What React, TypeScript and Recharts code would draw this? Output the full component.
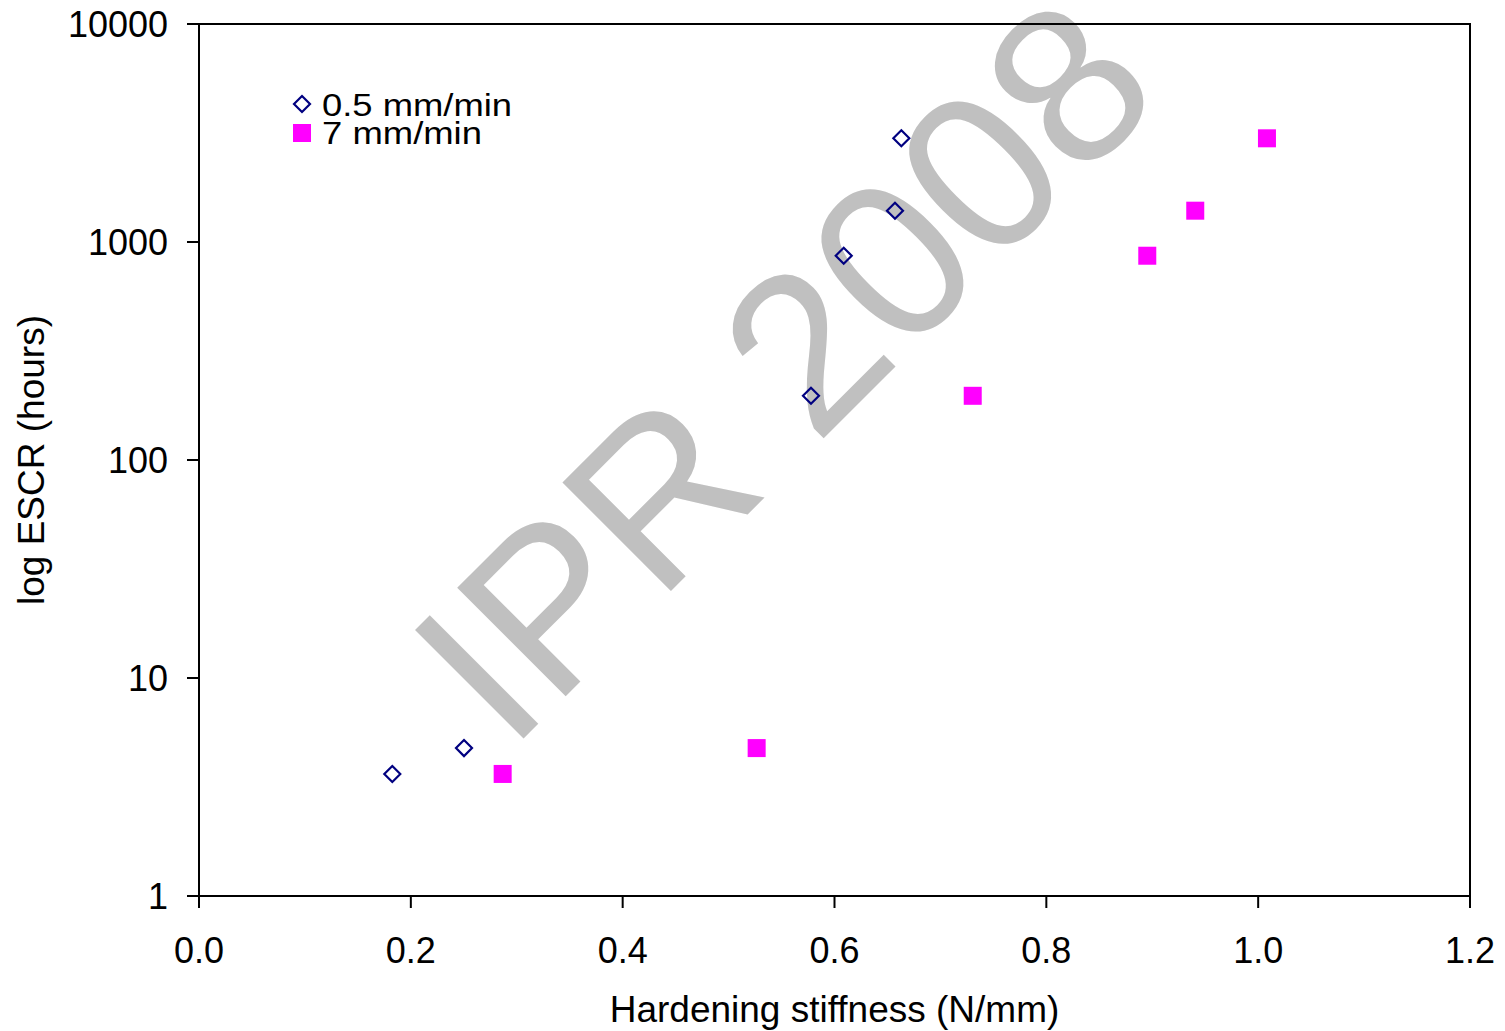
import React from 'react';
import { ScatterChart, Scatter, XAxis, YAxis, ReferenceArea, Legend } from 'recharts';

const slowX = [0.1825, 0.2502, 0.5778, 0.6087, 0.6571, 0.6631];
const slowY = [3.63, 4.77, 197, 865, 1392, 2990];
const fastX = [0.2867, 0.5265, 0.7305, 0.8953, 0.9406, 1.0083];
const fastY = [3.63, 4.77, 197, 865, 1392, 2990];
const xTicks = [0, 0.2, 0.4, 0.6, 0.8, 1.0, 1.2];
const yTicks = [1, 10, 100, 1000, 10000];
const seriesNames = ['0.5 mm/min', '7 mm/min'];
const xTitle = 'Hardening stiffness (N/mm)';
const yTitle = 'log ESCR (hours)';
const watermark = 'IPR 2008';

const slowData = slowX.map((x, i) => ({ x, y: slowY[i] }));
const fastData = fastX.map((x, i) => ({ x, y: fastY[i] }));

const FONT = '"Liberation Sans", Arial, sans-serif';
const NAVY = '#000080';
const MAGENTA = '#FF00FF';

const Diamond = (props: any) => {
  const { cx, cy } = props;
  if (cx == null || cy == null) return null;
  const h = 8;
  return (
    <polygon
      points={`${cx},${cy - h} ${cx + h},${cy} ${cx},${cy + h} ${cx - h},${cy}`}
      fill="none"
      stroke={NAVY}
      strokeWidth={2.2}
    />
  );
};

const Square = (props: any) => {
  const { cx, cy } = props;
  if (cx == null || cy == null) return null;
  const h = 9;
  return <rect x={cx - h} y={cy - h} width={2 * h} height={2 * h} fill={MAGENTA} />;
};

const LegendContent = () => (
  <svg width={260} height={80} style={{ display: 'block' }}>
    <polygon points="22,16 30,24 22,32 14,24" fill="none" stroke={NAVY} strokeWidth={2.2} />
    <rect x={13} y={44} width={18} height={18} fill={MAGENTA} />
    <text x={42} y={35.5} fontFamily={FONT} fontSize={31.5} textLength={190} lengthAdjust="spacingAndGlyphs" fill="#000">
      {seriesNames[0]}
    </text>
    <text x={42} y={63.5} fontFamily={FONT} fontSize={31.5} textLength={160} lengthAdjust="spacingAndGlyphs" fill="#000">
      {seriesNames[1]}
    </text>
  </svg>
);

const XTitle = (props: any) => {
  const vb = props.viewBox || {};
  return (
    <text x={vb.x + vb.width / 2} y={1022} textAnchor="middle" fontFamily={FONT} fontSize={37} fill="#000">
      {xTitle}
    </text>
  );
};

const YTitle = (props: any) => {
  const vb = props.viewBox || {};
  const cy = vb.y + vb.height / 2;
  return (
    <text
      x={44}
      y={cy}
      textAnchor="middle"
      transform={`rotate(-90, 44, ${cy})`}
      fontFamily={FONT}
      fontSize={37}
      fill="#000"
    >
      {yTitle}
    </text>
  );
};

export default function App() {
  return (
    <div style={{ position: 'absolute', left: 0, top: 0, width: 1505, height: 1031, background: '#fff', fontFamily: FONT }}>
      <svg width={1505} height={1031} style={{ position: 'absolute', left: 0, top: 0 }}>
        <text
          x={509}
          y={753}
          transform="rotate(-45, 509, 753)"
          fontFamily={FONT}
          fontSize={223}
          fill="#C0C0C0"
        >
          {watermark}
        </text>
      </svg>
      <div style={{ position: 'absolute', left: 0, top: 0 }}>
        <ScatterChart width={1505} height={1031} margin={{ top: 24, right: 35, bottom: 0, left: 0 }}>
          <XAxis
            type="number"
            dataKey="x"
            domain={[0, 1.2]}
            ticks={xTicks}
            tickFormatter={(v: number) => v.toFixed(1)}
            height={135}
            tickSize={12}
            tickMargin={29}
            axisLine={{ stroke: '#000', strokeWidth: 2 }}
            tickLine={{ stroke: '#000', strokeWidth: 2 }}
            tick={{ fill: '#000', fontSize: 36, fontFamily: FONT }}
            allowDataOverflow
            label={<XTitle />}
          />
          <YAxis
            type="number"
            dataKey="y"
            scale="log"
            domain={[1, 10000]}
            ticks={yTicks}
            width={199}
            tickSize={12}
            tickMargin={19}
            axisLine={{ stroke: '#000', strokeWidth: 2 }}
            tickLine={{ stroke: '#000', strokeWidth: 2 }}
            tick={{ fill: '#000', fontSize: 36, fontFamily: FONT }}
            allowDataOverflow
            label={<YTitle />}
          />
          <ReferenceArea x1={0} x2={1.2} y1={1} y2={10000} fill="none" stroke="#000" strokeWidth={2} />
          <Legend
            layout="horizontal"
            verticalAlign="middle"
            align="center"
            wrapperStyle={{ left: 280, top: 80, width: 260, height: 80 }}
            content={<LegendContent />}
          />
          <Scatter name={seriesNames[0]} data={slowData} fill={NAVY} shape={<Diamond />} isAnimationActive={false} />
          <Scatter name={seriesNames[1]} data={fastData} fill={MAGENTA} shape={<Square />} isAnimationActive={false} />
        </ScatterChart>
      </div>
    </div>
  );
}
